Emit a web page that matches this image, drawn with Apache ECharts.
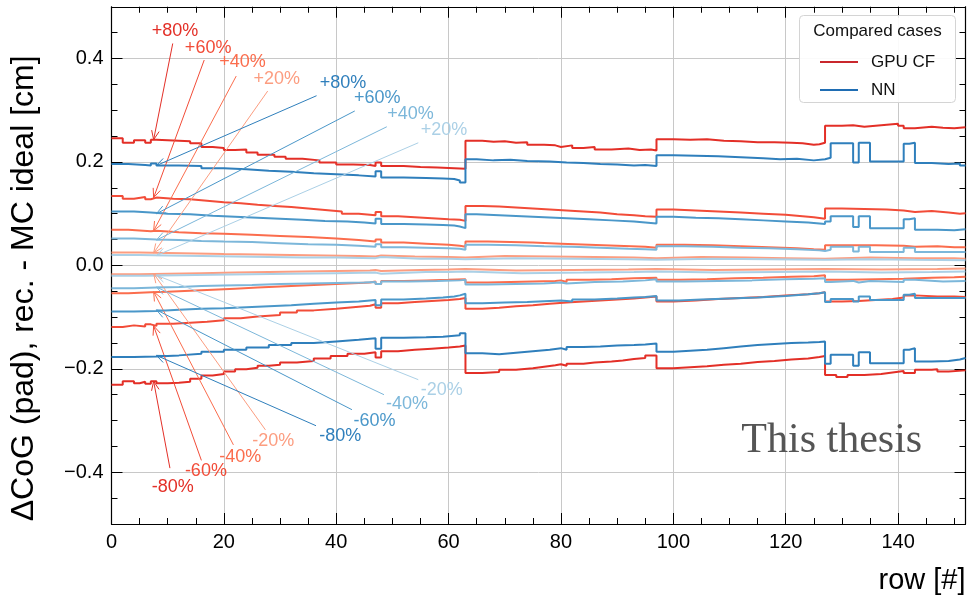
<!DOCTYPE html>
<html>
<head>
<meta charset="utf-8">
<script src="https://cdn.jsdelivr.net/npm/echarts@6/dist/echarts.min.js"></script>
<style>
  html, body { margin: 0; padding: 0; background: #fff; }
  #chart { width: 968px; height: 603px; }
</style>
</head>
<body>
<div id="chart"></div>
<script>
// step curves: [row, value] at each step change, value holds until next knot
const cfP80 = [[0,0.246],[2,0.237],[4,0.242],[6,0.237],[7,0.243],[8,0.241],[12,0.240],[14,0.236],[16,0.229],[18,0.227],[20,0.223],[22,0.224],[24,0.218],[26,0.214],[29,0.210],[31,0.206],[34,0.203],[37,0.199],[40,0.195],[43,0.194],[46,0.192],[47,0.199],[48,0.192],[52,0.190],[55,0.189],[58,0.188],[61,0.187],
  [63,0.241],[66,0.239],[68,0.240],[70,0.237],[72,0.238],[74,0.233],[77,0.232],[79,0.229],[80,0.232],[82,0.227],[84,0.229],[86,0.224],[89,0.226],[92,0.223],[94,0.224],[96,0.222],
  [97,0.244],[100,0.243],[103,0.244],[106,0.241],[109,0.240],[112,0.238],[115,0.238],[118,0.237],[121,0.236],[123,0.233],[125,0.234],[126,0.237],
  [127,0.270],[130,0.271],[132,0.268],[134,0.270],[136,0.272],[138,0.274],[140,0.270],[141,0.265],[143,0.268],[146,0.266],[148,0.265],[150,0.267],[152,0.267]];
const nnP80 = [[0,0.196],[3,0.194],[6,0.193],[7,0.197],[8,0.193],[12,0.192],[16,0.188],[20,0.186],[24,0.183],[28,0.181],[32,0.178],[36,0.176],[40,0.174],[44,0.172],[47,0.182],[48,0.170],[52,0.169],[56,0.168],[59,0.167],[61,0.164],[62,0.160],
  [63,0.205],[65,0.203],[68,0.204],[71,0.202],[74,0.201],[78,0.199],[81,0.198],[84,0.196],[87,0.195],[90,0.193],[93,0.194],[95,0.192],
  [97,0.213],[100,0.212],[104,0.211],[108,0.209],[112,0.207],[116,0.205],[119,0.206],[122,0.203],[125,0.205],
  [127,0.208],[128,0.236],[132,0.199],[133,0.237],[135,0.201],[138,0.201],[141,0.235],[142,0.237],[143,0.198],[146,0.196],[149,0.197],[151,0.193],[152,0.193]];
const cfP60 = [[0,0.134],[2,0.129],[4,0.132],[6,0.128],[7,0.131],[8,0.129],[11,0.128],[14,0.125],[17,0.122],[20,0.120],[23,0.117],[26,0.115],[29,0.113],[32,0.110],[35,0.107],[38,0.104],[41,0.100],[44,0.097],[47,0.103],[48,0.095],[51,0.093],[54,0.091],[57,0.089],[60,0.088],[62,0.086],
  [63,0.115],[66,0.114],[69,0.112],[72,0.110],[75,0.108],[78,0.106],[81,0.104],[84,0.102],[87,0.099],[90,0.097],[93,0.095],[95,0.094],
  [97,0.108],[100,0.106],[104,0.104],[108,0.102],[112,0.100],[116,0.098],[120,0.095],[123,0.093],[125,0.090],
  [127,0.110],[130,0.109],[134,0.108],[138,0.106],[141,0.103],[143,0.105],[146,0.102],[149,0.100],[151,0.101],[152,0.101]];
const nnP60 = [[0,0.104],[4,0.102],[7,0.100],[10,0.099],[14,0.096],[18,0.094],[22,0.092],[26,0.090],[30,0.088],[34,0.086],[38,0.085],[42,0.083],[45,0.081],[47,0.090],[48,0.080],[52,0.079],[56,0.078],[59,0.077],[61,0.075],[62,0.072],
  [63,0.099],[65,0.097],[69,0.095],[73,0.093],[77,0.091],[81,0.089],[85,0.087],[89,0.085],[93,0.083],[95,0.081],
  [97,0.094],[100,0.092],[104,0.091],[108,0.089],[112,0.087],[116,0.085],[120,0.083],[124,0.081],[126,0.080],
  [127,0.085],[128,0.095],[132,0.074],[133,0.095],[135,0.072],[141,0.089],[142,0.091],[143,0.069],[147,0.068],[150,0.070],[152,0.070]];
const cfP40 = [[0,0.069],[3,0.066],[7,0.067],[8,0.064],[12,0.062],[16,0.061],[20,0.059],[25,0.057],[30,0.055],[35,0.052],[40,0.049],[44,0.046],[47,0.050],[48,0.044],[52,0.042],[56,0.040],[60,0.038],[62,0.036],
  [63,0.046],[67,0.045],[71,0.044],[75,0.042],[80,0.040],[85,0.038],[90,0.036],[95,0.034],
  [97,0.040],[102,0.039],[107,0.037],[112,0.035],[117,0.033],[122,0.031],[125,0.030],
  [127,0.039],[131,0.039],[136,0.038],[141,0.036],[143,0.037],[147,0.035],[150,0.035],[152,0.035]];
const nnP40 = [[0,0.052],[4,0.050],[8,0.049],[12,0.047],[16,0.046],[20,0.045],[25,0.043],[30,0.041],[35,0.040],[40,0.038],[44,0.036],[47,0.041],[48,0.035],[52,0.034],[56,0.033],[60,0.032],[62,0.030],
  [63,0.040],[67,0.039],[72,0.037],[77,0.036],[82,0.034],[87,0.032],[92,0.031],[95,0.030],
  [97,0.037],[102,0.036],[107,0.034],[112,0.033],[117,0.031],[122,0.029],[126,0.028],
  [127,0.030],[128,0.036],[132,0.027],[133,0.036],[135,0.026],[141,0.034],[143,0.026],[148,0.026],[152,0.027]];
const cfP20 = [[0,0.025],[5,0.024],[10,0.023],[15,0.022],[20,0.021],[26,0.020],[32,0.019],[38,0.018],[44,0.017],[47,0.019],[48,0.017],[54,0.016],[60,0.015],
  [63,0.018],[70,0.017],[78,0.016],[86,0.015],[93,0.014],
  [97,0.016],[105,0.015],[113,0.014],[120,0.013],
  [127,0.015],[135,0.014],[143,0.014],[150,0.013],[152,0.013]];
const nnP20 = [[0,0.020],[5,0.019],[10,0.018],[16,0.017],[22,0.016],[28,0.015],[34,0.015],[40,0.014],[47,0.016],[48,0.013],[55,0.013],[60,0.012],
  [63,0.014],[72,0.013],[82,0.012],[92,0.011],
  [97,0.013],[107,0.012],[117,0.011],
  [127,0.012],[135,0.011],[143,0.010],[152,0.010]];
const cfM20 = [[0,-0.017],[5,-0.016],[10,-0.015],[16,-0.014],[22,-0.013],[28,-0.012],[34,-0.011],[40,-0.010],[46,-0.009],[47,-0.011],[48,-0.009],[55,-0.008],[60,-0.007],
  [63,-0.010],[72,-0.009],[82,-0.008],[92,-0.007],
  [97,-0.009],[107,-0.008],[117,-0.007],
  [127,-0.008],[137,-0.007],[147,-0.006],[152,-0.006]];
const nnM20 = [[0,-0.020],[6,-0.019],[12,-0.018],[18,-0.017],[25,-0.016],[32,-0.015],[40,-0.014],[47,-0.016],[48,-0.013],[56,-0.013],[60,-0.012],
  [63,-0.015],[73,-0.014],[84,-0.013],[93,-0.012],
  [97,-0.014],[108,-0.013],[118,-0.012],
  [127,-0.014],[137,-0.013],[146,-0.012],[152,-0.012]];
const cfM40 = [[0,-0.054],[3,-0.052],[7,-0.051],[10,-0.049],[14,-0.047],[18,-0.045],[22,-0.043],[26,-0.041],[30,-0.039],[34,-0.037],[38,-0.035],[42,-0.033],[46,-0.031],[47,-0.036],[48,-0.030],[52,-0.029],[56,-0.028],[60,-0.027],
  [63,-0.033],[67,-0.032],[71,-0.031],[75,-0.030],[79,-0.029],[80,-0.032],[81,-0.028],[85,-0.027],[89,-0.025],[93,-0.024],
  [97,-0.028],[101,-0.027],[106,-0.025],[111,-0.024],[116,-0.022],[121,-0.021],[125,-0.019],
  [127,-0.028],[131,-0.027],[136,-0.026],[141,-0.024],[146,-0.023],[150,-0.022],[152,-0.022]];
const nnM40 = [[0,-0.044],[4,-0.043],[8,-0.042],[12,-0.040],[16,-0.039],[20,-0.038],[25,-0.036],[30,-0.035],[35,-0.034],[40,-0.033],[45,-0.032],[47,-0.036],[48,-0.031],[53,-0.030],[58,-0.029],[62,-0.028],
  [63,-0.037],[67,-0.036],[72,-0.035],[77,-0.033],[80,-0.035],[81,-0.032],[86,-0.031],[91,-0.029],[95,-0.027],
  [97,-0.031],[102,-0.030],[108,-0.029],[114,-0.027],[120,-0.026],[125,-0.025],
  [127,-0.032],[128,-0.030],[132,-0.033],[133,-0.030],[135,-0.032],[141,-0.028],[143,-0.031],[148,-0.030],[152,-0.029]];
const cfM60 = [[0,-0.119],[2,-0.116],[4,-0.118],[6,-0.114],[7,-0.117],[8,-0.113],[11,-0.111],[14,-0.109],[17,-0.106],[20,-0.102],[23,-0.099],[26,-0.096],[30,-0.091],[33,-0.087],[36,-0.084],[40,-0.081],[43,-0.078],[46,-0.075],[47,-0.082],[48,-0.073],[51,-0.071],[54,-0.069],[57,-0.067],[60,-0.065],[62,-0.063],
  [63,-0.084],[66,-0.082],[69,-0.079],[72,-0.077],[75,-0.074],[78,-0.072],[81,-0.070],[84,-0.068],[87,-0.066],[90,-0.064],[93,-0.062],[95,-0.060],
  [97,-0.070],[100,-0.068],[104,-0.065],[108,-0.063],[112,-0.061],[116,-0.058],[120,-0.056],[124,-0.054],[126,-0.052],
  [127,-0.070],[130,-0.069],[133,-0.067],[136,-0.065],[139,-0.062],[141,-0.058],[143,-0.060],[147,-0.060],[150,-0.061],[152,-0.062]];
const nnM60 = [[0,-0.089],[4,-0.088],[8,-0.086],[12,-0.084],[16,-0.083],[20,-0.081],[24,-0.079],[28,-0.077],[32,-0.074],[36,-0.072],[40,-0.070],[44,-0.068],[46,-0.067],[47,-0.077],[48,-0.066],[52,-0.064],[56,-0.062],[59,-0.060],[61,-0.058],[62,-0.055],
  [63,-0.073],[66,-0.072],[70,-0.071],[74,-0.069],[78,-0.068],[80,-0.070],[82,-0.066],[86,-0.064],[90,-0.062],[93,-0.061],[95,-0.059],
  [97,-0.068],[101,-0.066],[105,-0.064],[110,-0.062],[115,-0.059],[120,-0.056],[124,-0.054],[126,-0.052],
  [127,-0.071],[128,-0.065],[132,-0.070],[133,-0.060],[135,-0.067],[141,-0.057],[142,-0.055],[143,-0.063],[148,-0.063],[152,-0.062]];
const cfM80 = [[0,-0.231],[2,-0.224],[4,-0.228],[5,-0.225],[6,-0.229],[7,-0.224],[8,-0.228],[10,-0.227],[12,-0.225],[14,-0.219],[16,-0.213],[18,-0.210],[20,-0.205],[22,-0.201],[24,-0.198],[26,-0.194],[28,-0.192],[30,-0.188],[33,-0.185],[36,-0.180],[39,-0.175],[42,-0.171],[45,-0.168],[47,-0.178],[48,-0.166],[51,-0.163],[54,-0.161],[57,-0.159],[60,-0.157],[62,-0.155],
  [63,-0.208],[66,-0.206],[69,-0.202],[72,-0.199],[75,-0.196],[77,-0.193],[79,-0.191],[80,-0.194],[81,-0.190],[84,-0.188],[86,-0.186],[89,-0.184],[91,-0.181],[93,-0.179],[95,-0.174],
  [97,-0.199],[100,-0.197],[103,-0.195],[106,-0.192],[109,-0.190],[112,-0.187],[115,-0.185],[118,-0.182],[121,-0.180],[124,-0.177],[126,-0.175],
  [127,-0.212],[129,-0.216],[131,-0.212],[134,-0.210],[137,-0.207],[139,-0.204],[141,-0.208],[143,-0.202],[146,-0.201],[147,-0.205],[149,-0.203],[152,-0.204]];
const nnM80 = [[0,-0.177],[4,-0.176],[8,-0.174],[12,-0.171],[16,-0.167],[20,-0.163],[24,-0.159],[28,-0.154],[32,-0.150],[36,-0.147],[40,-0.144],[44,-0.142],[46,-0.141],[47,-0.161],[48,-0.140],[52,-0.139],[56,-0.138],[59,-0.136],[61,-0.135],[62,-0.131],
  [63,-0.170],[66,-0.172],[69,-0.169],[72,-0.166],[75,-0.163],[78,-0.160],[80,-0.163],[81,-0.158],[84,-0.157],[87,-0.155],[90,-0.154],[93,-0.153],[95,-0.151],
  [97,-0.167],[100,-0.165],[103,-0.163],[106,-0.160],[109,-0.157],[112,-0.154],[115,-0.152],[118,-0.150],[121,-0.149],[124,-0.148],[126,-0.147],
  [127,-0.190],[128,-0.173],[132,-0.194],[133,-0.168],[135,-0.189],[141,-0.163],[142,-0.160],[143,-0.186],[146,-0.185],[149,-0.182],[151,-0.179],[152,-0.179]];

const variations = ['+80%', '+60%', '+40%', '+20%', '-20%', '-40%', '-60%', '-80%'];
const cfCurves = [cfP80, cfP60, cfP40, cfP20, cfM20, cfM40, cfM60, cfM80];
const nnCurves = [nnP80, nnP60, nnP40, nnP20, nnM20, nnM40, nnM60, nnM80];
const redShades = ['#e32f27', '#f24c38', '#fb6d4d', '#fc9d80', '#fc9d80', '#fb6d4d', '#f24c38', '#e32f27'];
const blueShades = ['#2f7fbc', '#4a97c9', '#7cb7da', '#abd0e6', '#abd0e6', '#7cb7da', '#4a97c9', '#2f7fbc'];

// annotation layout in data coords: label centre, arrow tail, arrow head row
const cfLabelAt = [[11.3,0.453],[17.2,0.421],[23.3,0.393],[29.4,0.361],[28.8,-0.339],[22.9,-0.371],[16.8,-0.398],[10.9,-0.429]];
const cfTailAt = [[10.9,0.429],[16.5,0.397],[22.2,0.366],[27.8,0.337],[27.4,-0.318],[21.7,-0.347],[16.0,-0.377],[10.4,-0.392]];
const nnLabelAt = [[41.2,0.353],[47.3,0.323],[53.2,0.292],[59.2,0.262],[58.8,-0.241],[52.6,-0.268],[46.8,-0.300],[40.7,-0.329]];
const nnTailAt = [[36.5,0.328],[43.3,0.2985],[49.0,0.268],[54.6,0.237],[54.6,-0.221],[48.5,-0.250],[42.8,-0.279],[36.4,-0.310]];
const cfHeadRow = 7.5;
const nnHeadRow = 8.0;

const FONT = '"Liberation Sans", Arial, Helvetica, sans-serif';

function valueAt(curve, row) {
  let v = curve[0][1];
  for (const [x, y] of curve) { if (x <= row) v = y; }
  return v;
}

const series = [];
cfCurves.forEach((c, i) => series.push({
  name: 'GPU CF', type: 'line', step: 'end', symbol: 'none', data: c, z: 2,
  lineStyle: { color: redShades[i], width: 2 }, itemStyle: { color: redShades[i] }
}));
nnCurves.forEach((c, i) => series.push({
  name: 'NN', type: 'line', step: 'end', symbol: 'none', data: c, z: 2,
  lineStyle: { color: blueShades[i], width: 2 }, itemStyle: { color: blueShades[i] }
}));

const tickColor = '#000';
function xAx(pos, main) {
  return {
    type: 'value', position: pos, min: 0, max: 152, interval: 20,
    axisLine: { show: true, onZero: false, lineStyle: { color: '#000', width: 1.2 } },
    axisTick: { show: true, inside: true, length: 11, lineStyle: { color: tickColor, width: 1 } },
    minorTick: { show: true, splitNumber: 4, length: 6, lineStyle: { color: tickColor, width: 1 } },
    axisLabel: { show: main, fontSize: 20, color: '#000', fontFamily: FONT, margin: 8, showMaxLabel: false },
    splitLine: { show: main, lineStyle: { color: '#c8c8c8', width: 1 } },
    name: main ? 'row [#]' : '', nameLocation: 'end', nameGap: 0,
    nameTextStyle: { fontSize: 29, color: '#000', fontFamily: FONT, align: 'right', verticalAlign: 'top', padding: [42, 0, 0, 0] }
  };
}
function yAx(pos, main) {
  return {
    type: 'value', position: pos, min: -0.5, max: 0.5, splitNumber: 5,
    axisLine: { show: true, onZero: false, lineStyle: { color: '#000', width: 1.2 } },
    axisTick: { show: true, inside: true, length: 11, lineStyle: { color: tickColor, width: 1 } },
    minorTick: { show: true, splitNumber: 4, length: 6, lineStyle: { color: tickColor, width: 1 } },
    axisLabel: {
      show: main, fontSize: 20, color: '#000', fontFamily: FONT, margin: 8,
      showMinLabel: false, showMaxLabel: false,
      formatter: v => v.toFixed(1).replace('-', '\u2212')
    },
    splitLine: { show: main, lineStyle: { color: '#c8c8c8', width: 1 } },
    name: main ? '\u0394CoG (pad), rec. - MC ideal [cm]' : '', nameLocation: 'middle', nameGap: 71, nameRotate: 90,
    nameTextStyle: { fontSize: 32, color: '#000', fontFamily: FONT, padding: [0, 46, 0, 0] }
  };
}

const chart = echarts.init(document.getElementById('chart'));
chart.setOption({
  animation: false,
  backgroundColor: '#fff',
  grid: { left: 111.5, right: 2.5, top: 6.75, bottom: 79, containLabel: false, outerBoundsMode: 'none' },
  xAxis: [xAx('bottom', true), xAx('top', false)],
  yAxis: [yAx('left', true), yAx('right', false)],
  legend: {
    orient: 'vertical', left: 815, top: 48, itemWidth: 38, itemHeight: 2, icon: 'rect',
    itemGap: 10, selectedMode: false, z: 6,
    textStyle: { fontSize: 17, lineHeight: 18, color: '#111', fontFamily: FONT, padding: [0, 0, 0, 8] },
    data: [{ name: 'GPU CF', itemStyle: { color: '#c9272d' } }, { name: 'NN', itemStyle: { color: '#1f6db3' } }]
  },
  series: series
});

// legend frame, title, annotations and watermark
const g = [];
g.push({ type: 'rect', z: 5, shape: { x: 799.5, y: 15.5, width: 156, height: 87, r: 4 },
  style: { fill: 'rgba(255,255,255,0.9)', stroke: '#d4d4d4', lineWidth: 1 } });
g.push({ type: 'text', z: 6, x: 877.5, y: 31, style: { text: 'Compared cases', font: '17px ' + FONT, fill: '#111', textAlign: 'center', textVerticalAlign: 'middle' } });

function px(p) { return chart.convertToPixel({ xAxisIndex: 0, yAxisIndex: 0 }, p); }
function arrow(tail, head, color) {
  const dx = head[0] - tail[0], dy = head[1] - tail[1];
  const len = Math.hypot(dx, dy), ux = dx / len, uy = dy / len;
  const hl = 9, hw = 3.8;
  const bx = head[0] - ux * hl, by = head[1] - uy * hl;
  g.push({ type: 'line', z: 4, shape: { x1: tail[0], y1: tail[1], x2: head[0], y2: head[1] }, style: { stroke: color, lineWidth: 1 } });
  g.push({ type: 'polyline', z: 4, shape: { points: [[bx - uy * hw, by + ux * hw], head, [bx + uy * hw, by - ux * hw]] }, style: { stroke: color, lineWidth: 1, fill: null } });
}
function annotate(curves, labelAt, tailAt, headRow, shades) {
  curves.forEach((c, i) => {
    const head = px([headRow, valueAt(c, headRow)]);
    arrow(px(tailAt[i]), head, shades[i]);
    const lp = px(labelAt[i]);
    g.push({ type: 'text', z: 4, x: lp[0], y: lp[1], style: { text: variations[i], font: '18px ' + FONT, fill: shades[i], textAlign: 'center', textVerticalAlign: 'middle' } });
  });
}
annotate(cfCurves, cfLabelAt, cfTailAt, cfHeadRow, redShades);
annotate(nnCurves, nnLabelAt, nnTailAt, nnHeadRow, blueShades);

const wm = px([128.2, -0.339]);
g.push({ type: 'text', z: 4, x: wm[0], y: wm[1], style: { text: 'This thesis', font: '42px "Liberation Serif", "DejaVu Serif", serif', fill: '#555', textAlign: 'center', textVerticalAlign: 'middle' } });

chart.setOption({ graphic: g });
</script>
</body>
</html>
